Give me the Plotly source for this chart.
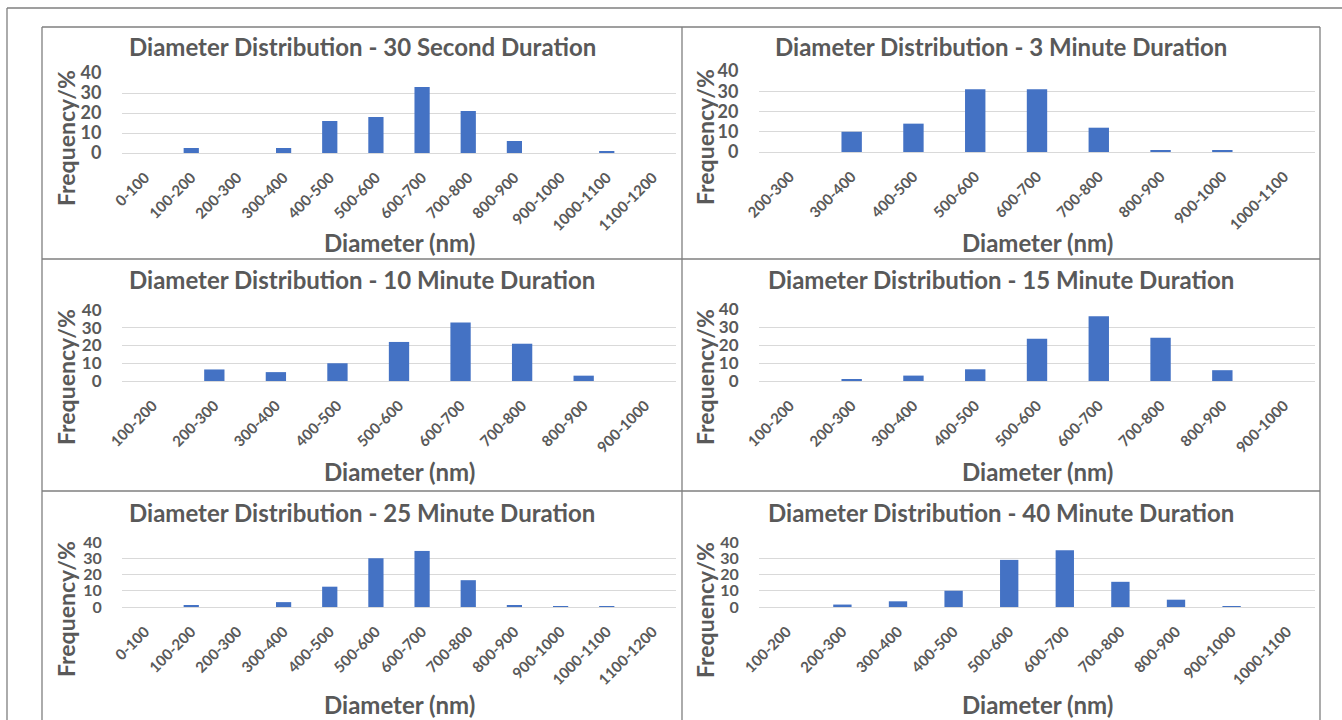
import plotly.graph_objects as go

W, H = 1342, 720

# ---- data ----
cats_30s = ["0-100", "100-200", "200-300", "300-400", "400-500", "500-600", "600-700",
            "700-800", "800-900", "900-1000", "1000-1100", "1100-1200"]
vals_30s = [0, 2.5, 0, 2.5, 16, 18, 33, 21, 6, 0, 1, 0]

cats_3m = ["200-300", "300-400", "400-500", "500-600", "600-700", "700-800",
           "800-900", "900-1000", "1000-1100"]
vals_3m = [0, 10, 14, 31, 31, 12, 1, 1, 0]

cats_10m = ["100-200", "200-300", "300-400", "400-500", "500-600", "600-700",
            "700-800", "800-900", "900-1000"]
vals_10m = [0, 6.5, 5, 10, 22, 33, 21, 3, 0]

cats_15m = ["100-200", "200-300", "300-400", "400-500", "500-600", "600-700",
            "700-800", "800-900", "900-1000"]
vals_15m = [0, 1, 3, 6.5, 23.5, 36, 24, 6, 0]

cats_25m = ["0-100", "100-200", "200-300", "300-400", "400-500", "500-600", "600-700",
            "700-800", "800-900", "900-1000", "1000-1100", "1100-1200"]
vals_25m = [0, 1, 0, 3, 12.5, 30, 34.5, 16.5, 1, 0.5, 0.5, 0]

cats_40m = ["100-200", "200-300", "300-400", "400-500", "500-600", "600-700",
            "700-800", "800-900", "900-1000", "1000-1100"]
vals_40m = [0, 1.5, 3.5, 10, 29, 35, 15.5, 4.5, 0.5, 0]

titles = ["Diameter Distribution - 30 Second Duration",
          "Diameter Distribution - 3 Minute Duration",
          "Diameter Distribution - 10 Minute Duration",
          "Diameter Distribution - 15 Minute Duration",
          "Diameter Distribution - 25 Minute Duration",
          "Diameter Distribution - 40 Minute Duration"]
y_ticks = [0, 10, 20, 30, 40]
x_title = "Diameter (nm)"
y_title = "Frequency/%"

series = [(cats_30s, vals_30s), (cats_3m, vals_3m), (cats_10m, vals_10m),
          (cats_15m, vals_15m), (cats_25m, vals_25m), (cats_40m, vals_40m)]

# ---- layout geometry (pixels) ----
plots = [(122, 676, 73, 153), (759, 1315, 71, 152),
         (122, 676, 310, 381), (759, 1315, 309, 381),
         (122, 676, 542, 607), (759, 1315, 542, 607)]
cells_x = [(42, 682), (682, 1320)]
title_y = [47, 280, 512]
xtitle_y = [242, 471, 704]
ytitle_x = [66, 705]
ytitle_y = [138, 137, 377, 377, 609, 610]
ytick_size = [18, 18, 17, 17, 16, 16]

FONT = "Lato"
TXT = "#595959"
BAR = "#4472C4"
GRID = "#D9D9D9"
FRAME = "#7F7F7F"


def px(x):
    return x / W


def py(y):
    return 1 - y / H


fig = go.Figure()
annotations = []
for i, ((cats, vals), (x0, x1, yt, yb)) in enumerate(zip(series, plots)):
    sfx = "" if i == 0 else str(i + 1)
    fig.add_trace(go.Bar(x=cats, y=vals, marker=dict(color=BAR, line=dict(width=0)),
                         width=0.33, xaxis="x" + sfx, yaxis="y" + sfx,
                         showlegend=False, hoverinfo="x+y"))
    fig.layout["xaxis" + sfx] = dict(
        domain=[px(x0), px(x1)], anchor="y" + sfx, type="category", automargin=False,
        range=[-0.5, len(cats) - 0.5], tickangle=-45, showgrid=False,
        zeroline=False, showline=True, linecolor=GRID, linewidth=1,
        ticks="outside", ticklen=9, tickcolor="rgba(0,0,0,0)",
        tickfont=dict(family=FONT, size=15, color=TXT, weight="bold"),
        fixedrange=True)
    fig.layout["yaxis" + sfx] = dict(
        domain=[py(yb), py(yt)], anchor="x" + sfx, range=[0, 40], automargin=False,
        tickvals=y_ticks, showgrid=True, gridcolor=GRID, gridwidth=1,
        zeroline=False, showline=False,
        ticks="outside", ticklen=16, tickcolor="rgba(0,0,0,0)",
        tickfont=dict(family=FONT, size=ytick_size[i], color=TXT, weight="bold"),
        fixedrange=True)
    col = i % 2
    row = i // 2
    cx0, cx1 = cells_x[col]
    annotations.append(dict(text=titles[i], x=px((cx0 + cx1) / 2), y=py(title_y[row]),
                            xref="paper", yref="paper", xanchor="center", yanchor="middle",
                            showarrow=False,
                            font=dict(family=FONT, size=24, color=TXT, weight="bold")))
    annotations.append(dict(text=x_title, x=px((x0 + x1) / 2), y=py(xtitle_y[row]),
                            xref="paper", yref="paper", xanchor="center", yanchor="middle",
                            showarrow=False,
                            font=dict(family=FONT, size=24, color=TXT, weight="bold")))
    annotations.append(dict(text=y_title, x=px(ytitle_x[col]), y=py(ytitle_y[i]),
                            xref="paper", yref="paper", xanchor="center", yanchor="middle",
                            textangle=-90, showarrow=False,
                            font=dict(family=FONT, size=23, color=TXT, weight="bold")))

shapes = []
line = dict(color=FRAME, width=1.3)
shapes.append(dict(type="line", xref="paper", yref="paper", x0=px(7), x1=1.0,
                   y0=py(8), y1=py(8), line=line))
shapes.append(dict(type="line", xref="paper", yref="paper", x0=px(7), x1=px(7),
                   y0=py(8), y1=0, line=line))
shapes.append(dict(type="line", xref="paper", yref="paper", x0=px(42), x1=px(1320),
                   y0=py(27), y1=py(27), line=line))
for xv in (42, 682, 1320):
    shapes.append(dict(type="line", xref="paper", yref="paper", x0=px(xv), x1=px(xv),
                       y0=py(27), y1=0, line=line))
for yv in (259, 491):
    shapes.append(dict(type="line", xref="paper", yref="paper", x0=px(42), x1=px(1320),
                       y0=py(yv), y1=py(yv), line=line))

fig.update_layout(width=W, height=H, margin=dict(l=0, r=0, t=0, b=0, pad=0, autoexpand=False),
                  paper_bgcolor="white", plot_bgcolor="white",
                  annotations=annotations, shapes=shapes, bargap=0.6)

fig.write_html("out.html", config={"displayModeBar": False},
               post_script="document.body.style.margin='0';document.body.style.overflow='hidden';")
